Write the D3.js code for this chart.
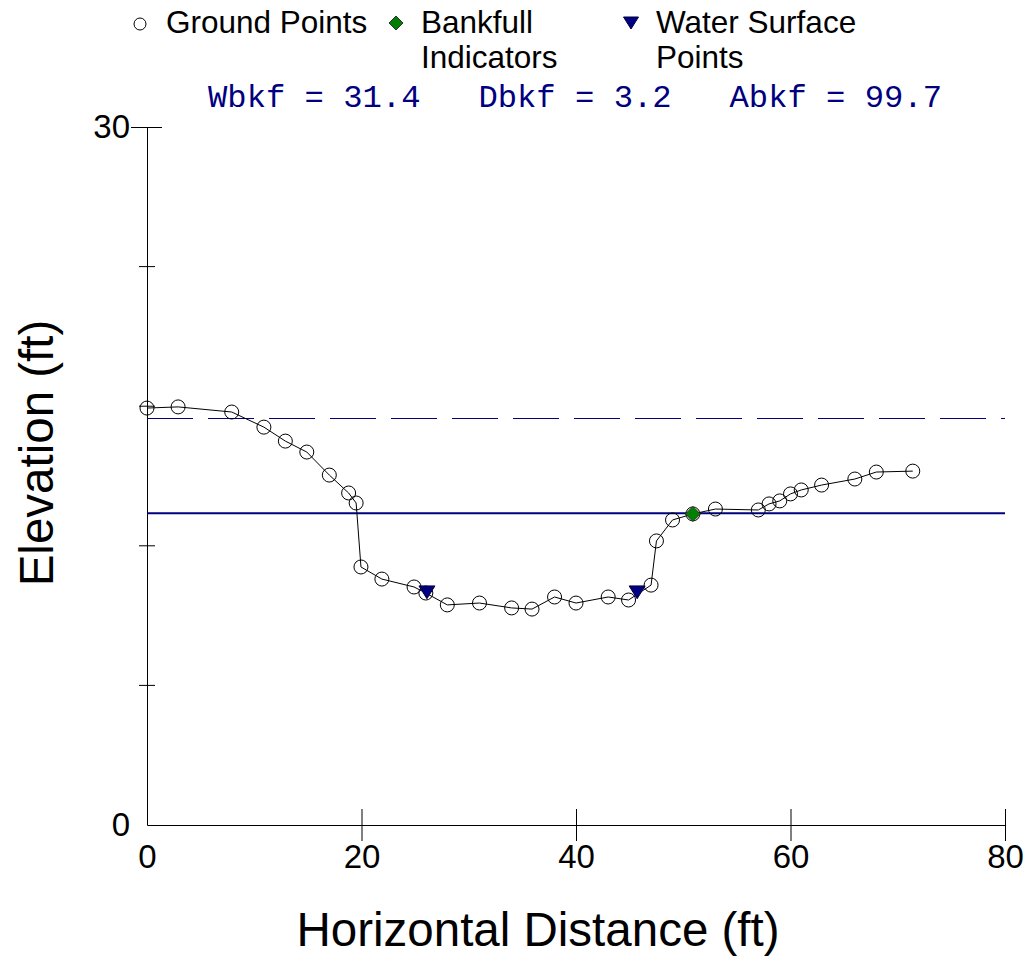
<!DOCTYPE html>
<html>
<head>
<meta charset="utf-8">
<script src="https://cdn.jsdelivr.net/npm/d3@7"></script>
<style>
  body { margin: 0; background: #fff; }
  svg { display: block; font-family: Arial, "Liberation Sans", sans-serif; }
</style>
</head>
<body>
<div id="chart"></div>
<script>
// ground survey points (horizontal distance, elevation) in ft
const stations = [0, 2.9, 7.9, 10.9, 12.9, 14.9, 17.0, 18.8, 19.5, 19.95, 21.9, 24.9, 26.0, 28.0, 31.0, 34.0, 35.9, 38.0, 40.0, 43.0, 44.9, 47.0, 47.5, 49.0, 50.9, 53.0, 57.0, 58.0, 59.0, 60.0, 61.0, 62.9, 66.0, 68.0, 71.4];
const elevations = [17.92, 17.97, 17.75, 17.10, 16.50, 16.03, 15.04, 14.27, 13.84, 11.09, 10.57, 10.23, 9.97, 9.46, 9.54, 9.33, 9.28, 9.80, 9.54, 9.80, 9.67, 10.31, 12.21, 13.11, 13.37, 13.58, 13.54, 13.80, 13.93, 14.23, 14.40, 14.61, 14.87, 15.17, 15.21];

// bankfull indicators and water surface points
const bankfullX = [50.9];
const bankfullY = [13.37];
const waterX = [26.1, 45.7];
const waterY = [10.0, 10.0];

// reference elevations
const bankfullElev = 13.4;
const floodproneElev = 17.5;

const xTicks = [0, 20, 40, 60, 80];
const yMajor = [0, 30];
const yMinor = [6, 12, 18, 24];

const stats = "Wbkf = 31.4   Dbkf = 3.2   Abkf = 99.7";

const width = 1028, height = 958;
const navy = "#000080";

const svg = d3.select("#chart").append("svg")
  .attr("width", width)
  .attr("height", height);

const x = d3.scaleLinear().domain([0, 80]).range([147, 1005]);
const y = d3.scaleLinear().domain([0, 30]).range([825, 127]);

// axes
const xAxis = svg.append("g").attr("transform", `translate(0,${y(0)})`)
  .call(d3.axisBottom(x).tickValues(xTicks).tickSize(0).tickPadding(20));
xAxis.select(".domain").attr("stroke", "#000");
xAxis.selectAll(".tick line").remove();
xAxis.selectAll(".tick text").attr("font-size", 33).attr("font-family", "Arial, 'Liberation Sans', sans-serif").attr("dy", "0.7em");
xAxis.selectAll(".tick").filter(d => d !== 0).append("line")
  .attr("y1", -16).attr("y2", 16).attr("stroke", "#000");

const yAxis = svg.append("g").attr("transform", `translate(${x(0)},0)`)
  .call(d3.axisLeft(y).tickValues(yMajor).tickSize(0).tickPadding(17));
yAxis.select(".domain").attr("stroke", "#000");
yAxis.selectAll(".tick text").attr("font-size", 33).attr("font-family", "Arial, 'Liberation Sans', sans-serif");
yAxis.selectAll(".tick line").remove();
yAxis.selectAll(".tick").filter(d => d !== 0).append("line")
  .attr("x1", -16).attr("x2", 15).attr("stroke", "#000");

svg.append("g").selectAll("line")
  .data(yMinor)
  .join("line")
  .attr("x1", x(0) - 8).attr("x2", x(0) + 8)
  .attr("y1", d => y(d)).attr("y2", d => y(d))
  .attr("stroke", "#000");

// axis titles
svg.append("text")
  .attr("x", (x(0) + x(80)) / 2 - 38)
  .attr("y", 946)
  .attr("text-anchor", "middle")
  .attr("font-size", 47.5)
  .text("Horizontal Distance (ft)");

svg.append("text")
  .attr("transform", `translate(53,${(y(0) + y(30)) / 2 - 23}) rotate(-90)`)
  .attr("text-anchor", "middle")
  .attr("font-size", 47.5)
  .text("Elevation (ft)");

// reference lines
svg.append("line")
  .attr("x1", x(0)).attr("x2", x(80))
  .attr("y1", Math.round(y(floodproneElev)) + 0.5).attr("y2", Math.round(y(floodproneElev)) + 0.5)
  .attr("stroke", navy).attr("stroke-width", 1)
  .attr("stroke-dasharray", "46 15");

svg.append("line")
  .attr("x1", x(0)).attr("x2", x(80))
  .attr("y1", y(bankfullElev)).attr("y2", y(bankfullElev))
  .attr("stroke", navy).attr("stroke-width", 2);

// ground profile
const ground = stations.map((d, i) => ({ x: d, y: elevations[i] }));

svg.append("path")
  .datum(ground)
  .attr("fill", "none")
  .attr("stroke", "#000")
  .attr("stroke-width", 1)
  .attr("d", d3.line().x(d => x(d.x)).y(d => y(d.y)));

svg.append("g").selectAll("circle")
  .data(ground)
  .join("circle")
  .attr("cx", d => x(d.x))
  .attr("cy", d => y(d.y))
  .attr("r", 7)
  .attr("fill", "none")
  .attr("stroke", "#000")
  .attr("stroke-width", 1);

// symbols
const diamond = s => `M0,${-s}L${s},0L0,${s}L${-s},0Z`;
const triDown = s => `M${-s},${-s * 0.8}L${s},${-s * 0.8}L0,${s * 0.8}Z`;

svg.append("g").selectAll("path")
  .data(bankfullX)
  .join("path")
  .attr("transform", (d, i) => `translate(${x(d)},${y(bankfullY[i])})`)
  .attr("d", diamond(7.5))
  .attr("fill", "#008000")
  .attr("stroke", "#333")
  .attr("stroke-width", 1);

svg.append("g").selectAll("path")
  .data(waterX)
  .join("path")
  .attr("transform", (d, i) => `translate(${x(d)},${y(waterY[i])})`)
  .attr("d", triDown(8))
  .attr("fill", navy)
  .attr("stroke", "#000040")
  .attr("stroke-width", 1);

// legend
const legend = svg.append("g").attr("font-size", 31.5);

legend.append("circle").attr("cx", 140).attr("cy", 24).attr("r", 6)
  .attr("fill", "none").attr("stroke", "#000");
legend.append("text").attr("x", 166).attr("y", 33).text("Ground Points");

legend.append("path").attr("transform", "translate(396,23)").attr("d", diamond(7))
  .attr("fill", "#008000").attr("stroke", "#333");
legend.append("text").attr("x", 421).attr("y", 33).text("Bankfull");
legend.append("text").attr("x", 421).attr("y", 68).text("Indicators");

legend.append("path").attr("transform", "translate(631,23)").attr("d", triDown(7.5))
  .attr("fill", navy).attr("stroke", "#000040");
legend.append("text").attr("x", 656).attr("y", 33).text("Water Surface");
legend.append("text").attr("x", 656).attr("y", 68).text("Points");

// summary statistics
svg.append("text")
  .attr("x", 208)
  .attr("y", 107)
  .attr("xml:space", "preserve")
  .style("white-space", "pre")
  .attr("font-family", "'Courier New', 'Liberation Mono', monospace")
  .attr("font-size", 32.2)
  .attr("fill", navy)
  .text(stats);
</script>
</body>
</html>
